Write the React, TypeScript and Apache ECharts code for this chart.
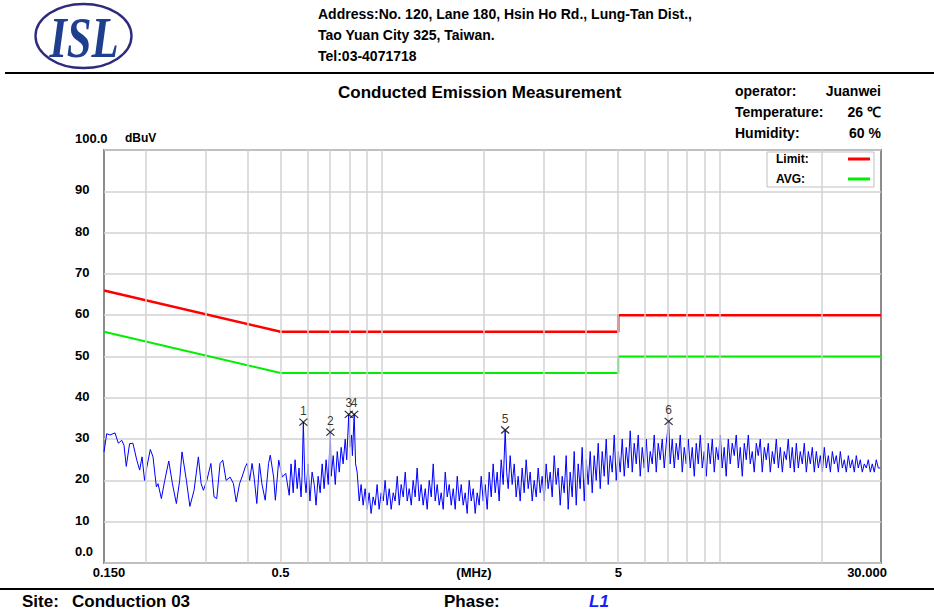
import React, { useEffect, useRef } from "react";
import * as echarts from "echarts";

const FONT = "'Liberation Sans', Arial, sans-serif";

// ---- data ----
const yTickValues = [0, 10, 20, 30, 40, 50, 60, 70, 80, 90, 100];
const xTickValues = [0.15, 0.5, 1.87, 5, 30];
const xTickLabels = ["0.150", "0.5", "(MHz)", "5", "30.000"];
const gridFreqs = [0.2, 0.3, 0.4, 0.5, 0.6, 0.7, 0.8, 0.9, 1, 2, 3, 4, 5, 6, 7, 8, 9, 10, 20];

const limitFreqs = [0.15, 0.5, 5, 5, 30];
const limitLevels = [66, 56, 56, 60, 60];
const avgLevels = [56, 46, 46, 50, 50];

const markerFreqs = [0.584, 0.702, 0.796, 0.826, 2.313, 7.05];
const markerLevels = [34.1, 31.7, 36.0, 36.0, 32.2, 34.3];
const markerNames = ["1", "2", "3", "4", "5", "6"];

// measured trace, [MHz, dBuV]
const traceReadings: [number, number][] = [
  [0.150, 26.9], [0.1528, 31.3], [0.1563, 31.0], [0.1617, 31.5], [0.1654, 29.0], [0.1693, 29.7],
  [0.1719, 28.5], [0.1746, 23.4], [0.1786, 28.9], [0.1827, 29.0], [0.1876, 24.9], [0.1913, 22.5],
  [0.1944, 25.7], [0.1978, 20.0], [0.201, 23.3], [0.2057, 27.5], [0.2095, 25.7], [0.2144, 18.4],
  [0.2168, 19.2], [0.2218, 15.6], [0.227, 20.0], [0.2333, 24.7], [0.2392, 19.2], [0.2457, 14.4],
  [0.2513, 20.0], [0.2553, 26.9], [0.2631, 20.0], [0.2694, 13.7], [0.2772, 17.6], [0.2855, 25.7],
  [0.2909, 19.2], [0.2955, 17.6], [0.3025, 20.0], [0.3109, 24.1], [0.3177, 16.0], [0.3236, 15.6],
  [0.331, 24.1], [0.3372, 24.9], [0.3449, 20.0], [0.3546, 20.8], [0.3627, 19.2], [0.3695, 14.8],
  [0.378, 19.2], [0.3843, 20.8], [0.3932, 23.3], [0.3978, 24.1], [0.405, 20.0], [0.4117, 24.1],
  [0.4174, 20.8], [0.4252, 14.4], [0.433, 24.1], [0.4402, 19.2], [0.4503, 15.2], [0.4607, 24.1],
  [0.4661, 26.1], [0.4769, 20.8], [0.4826, 15.2], [0.4938, 24.9], [0.506, 20.8], [0.518, 21.7],
  [0.5304, 16.4], [0.537, 24], [0.545, 17], [0.552, 25], [0.56, 18], [0.567, 23], [0.575, 16],
  [0.579, 21], [0.584, 34.1], [0.59, 20], [0.595, 17], [0.603, 24], [0.611, 15], [0.62, 22],
  [0.629, 19], [0.637, 14], [0.646, 21], [0.655, 17], [0.664, 24], [0.673, 18], [0.682, 25],
  [0.692, 19], [0.702, 31.7], [0.706, 21], [0.716, 26], [0.726, 19], [0.736, 27], [0.746, 22],
  [0.756, 28], [0.766, 24], [0.777, 30], [0.785, 25], [0.796, 36.0], [0.802, 28], [0.811, 31],
  [0.816, 26], [0.826, 36.0], [0.834, 24], [0.843, 22], [0.855, 15], [0.866, 19], [0.878, 14],
  [0.89, 18], [0.902, 13], [0.915, 17], [0.927, 12], [0.94, 16], [0.953, 14], [0.966, 19],
  [0.979, 13], [0.993, 17], [1.007, 15], [1.02, 20], [1.034, 14], [1.049, 18], [1.063, 13],
  [1.078, 17], [1.092, 15], [1.108, 21], [1.123, 14], [1.138, 19], [1.154, 16], [1.17, 22],
  [1.186, 15], [1.202, 18], [1.219, 14], [1.235, 20], [1.252, 16], [1.269, 23], [1.287, 15],
  [1.304, 19], [1.322, 14], [1.341, 18], [1.359, 13], [1.378, 20], [1.397, 16], [1.416, 24],
  [1.435, 15], [1.455, 19], [1.475, 14], [1.495, 17], [1.516, 13], [1.537, 22], [1.558, 16],
  [1.579, 19], [1.601, 14], [1.623, 18], [1.645, 13], [1.668, 21], [1.691, 15], [1.714, 19],
  [1.737, 14], [1.761, 17], [1.785, 12], [1.81, 20], [1.835, 15], [1.86, 18], [1.885, 12],
  [1.911, 17], [1.937, 14], [1.964, 21], [1.991, 15], [2.018, 19], [2.046, 13], [2.074, 22],
  [2.103, 16], [2.131, 24], [2.161, 17], [2.19, 22], [2.22, 15], [2.251, 25], [2.282, 19],
  [2.313, 32.2], [2.337, 22], [2.361, 18], [2.393, 26], [2.426, 19], [2.46, 24], [2.493, 16],
  [2.527, 21], [2.562, 15], [2.597, 23], [2.633, 17], [2.669, 25], [2.706, 18], [2.743, 22],
  [2.781, 15], [2.819, 20], [2.858, 16], [2.897, 23], [2.937, 17], [2.977, 21], [3.018, 15],
  [3.059, 24], [3.101, 18], [3.144, 22], [3.187, 16], [3.231, 26], [3.275, 19], [3.32, 23],
  [3.366, 14], [3.412, 21], [3.459, 17], [3.506, 26], [3.554, 13], [3.603, 22], [3.653, 16],
  [3.703, 27], [3.754, 14], [3.805, 24], [3.857, 18], [3.91, 28], [3.965, 15], [4.019, 25],
  [4.074, 19], [4.13, 27], [4.187, 17], [4.245, 26], [4.303, 20], [4.362, 29], [4.422, 18],
  [4.483, 27], [4.544, 21], [4.607, 30], [4.67, 19], [4.734, 26], [4.799, 22], [4.865, 31],
  [4.932, 20], [5.0, 27], [5.068, 22], [5.138, 30], [5.209, 21], [5.28, 28], [5.353, 23],
  [5.426, 32], [5.501, 22], [5.576, 29], [5.653, 24], [5.731, 31], [5.809, 21], [5.889, 28],
  [5.97, 23], [6.052, 30], [6.135, 22], [6.22, 27], [6.305, 24], [6.391, 31], [6.479, 22],
  [6.568, 29], [6.658, 25], [6.75, 30], [6.843, 23], [6.937, 29], [7.05, 34.3], [7.127, 24],
  [7.225, 30], [7.326, 23], [7.426, 29], [7.528, 25], [7.632, 31], [7.737, 22], [7.843, 28],
  [7.951, 24], [8.06, 30], [8.171, 23], [8.283, 28], [8.397, 21], [8.512, 29], [8.629, 24],
  [8.748, 31], [8.868, 23], [8.989, 27], [9.113, 21], [9.238, 29], [9.365, 24], [9.494, 30],
  [9.624, 22], [9.756, 28], [9.89, 25], [10.03, 31], [10.16, 23], [10.3, 28], [10.44, 21],
  [10.59, 30], [10.73, 24], [10.88, 29], [11.03, 26], [11.18, 31], [11.34, 23], [11.49, 28],
  [11.65, 21], [11.81, 29], [11.97, 25], [12.14, 31], [12.3, 24], [12.47, 27], [12.64, 22],
  [12.82, 29], [12.99, 26], [13.17, 30], [13.35, 22], [13.54, 28], [13.72, 25], [13.91, 29],
  [14.1, 22], [14.3, 27], [14.49, 24], [14.69, 30], [14.9, 23], [15.1, 28], [15.31, 22],
  [15.51, 27], [15.73, 25], [15.94, 30], [16.16, 23], [16.38, 28], [16.61, 22], [16.84, 29],
  [17.07, 23], [17.3, 27], [17.54, 24], [17.78, 29], [18.03, 22], [18.28, 27], [18.53, 24],
  [18.78, 28], [19.04, 22], [19.3, 27], [19.57, 23], [19.83, 26], [20.11, 22], [20.38, 28],
  [20.66, 23], [20.95, 26], [21.24, 22], [21.53, 27], [21.82, 24], [22.12, 26], [22.43, 22],
  [22.73, 27], [23.05, 23], [23.36, 25], [23.68, 22], [24.01, 26], [24.34, 23], [24.67, 25],
  [25.01, 22], [25.35, 26], [25.7, 23], [26.05, 25], [26.41, 22], [26.77, 24], [27.14, 23],
  [27.51, 25], [27.89, 22], [28.27, 24], [28.66, 22], [29.05, 25], [29.45, 23], [29.85, 23],
];

export default function App() {
  const ref = useRef<HTMLDivElement>(null);
  useEffect(() => {
    if (!ref.current) return;
    const chart = echarts.init(ref.current, null, { renderer: "svg" });
    const txt = (x: number, y: number, text: string, size: number, extra: any = {}) => ({
      type: "text",
      x,
      y,
      silent: true,
      style: {
        text,
        font: `${extra.style || ""} bold ${size}px ${extra.family || FONT}`,
        fill: extra.fill || "#000",
        textAlign: extra.align || "left",
        textVerticalAlign: "middle",
      },
    });
    chart.setOption({
      animation: false,
      backgroundColor: "#fff",
      grid: {
        left: 104,
        top: 150,
        width: 777,
        height: 413,
        show: true,
        borderColor: "#8c8c8c",
        borderWidth: 2,
        backgroundColor: "transparent",
      },
      legend: {
        data: ["Limit", "AVG"],
        orient: "vertical",
        left: 767,
        top: 152,
        align: "right",
        icon: "rect",
        itemWidth: 22,
        itemHeight: 3,
        itemGap: 8,
        padding: [1, 4, 2, 9],
        borderColor: "#c0c0c0",
        borderWidth: 1,
        backgroundColor: "#fff",
        selectedMode: false,
        formatter: (n: string) => `{a|${n}:}`,
        textStyle: {
          fontFamily: FONT,
          fontSize: 12,
          fontWeight: "bold",
          color: "#000",
          rich: {
            a: { width: 67, align: "left", fontFamily: FONT, fontSize: 12, fontWeight: "bold", color: "#000" },
          },
        },
      },
      xAxis: {
        type: "log",
        logBase: 10,
        min: 0.15,
        max: 30,
        axisLine: { show: false },
        axisTick: { show: false },
        splitLine: { show: false },
        axisLabel: {
          customValues: xTickValues,
          margin: 3,
          fontFamily: FONT,
          fontSize: 13,
          fontWeight: "bold",
          color: "#000",
          formatter: (v: number) => {
            let best = 0;
            xTickValues.forEach((t, i) => {
              if (Math.abs(Math.log(t / v)) < Math.abs(Math.log(xTickValues[best] / v))) best = i;
            });
            const s = xTickLabels[best];
            if (best === 0) return `{first|${s}}`;
            if (best === xTickLabels.length - 1) return `{last|${s}}`;
            return s;
          },
          rich: {
            first: { fontFamily: FONT, fontSize: 13, fontWeight: "bold", padding: [0, 0, 0, 10] },
            last: { fontFamily: FONT, fontSize: 13, fontWeight: "bold", padding: [0, 28, 0, 0] },
          },
        },
      },
      yAxis: {
        type: "value",
        min: 0,
        max: 100,
        interval: 10,
        axisLine: { show: false },
        axisTick: { show: false },
        splitLine: { show: true, lineStyle: { color: "#d2d2d2", width: 1.5 } },
        axisLabel: {
          customValues: yTickValues,
          align: "left",
          margin: 29,
          fontFamily: FONT,
          fontSize: 13,
          fontWeight: "bold",
          color: "#000",
          formatter: (v: number) =>
            v === 100 ? "{e|100.0}" : v === 0 ? "{e|0.0}" : `{n|${v}}`,
          rich: {
            e: { fontFamily: FONT, fontSize: 13, fontWeight: "bold", padding: [0, 0, 24, 0] },
            n: { fontFamily: FONT, fontSize: 13, fontWeight: "bold", padding: [0, 0, 3, 0] },
          },
        },
      },
      series: [
        {
          name: "grid",
          type: "line",
          data: [],
          silent: true,
          z: 1,
          markLine: {
            silent: true,
            symbol: ["none", "none"],
            label: { show: false },
            lineStyle: { color: "#d2d2d2", width: 1.5, type: "solid" },
            data: gridFreqs.map((f) => ({ xAxis: f })),
          },
        },
        {
          name: "trace",
          type: "line",
          data: traceReadings,
          showSymbol: false,
          z: 3,
          lineStyle: { color: "#0000ff", width: 1 },
          itemStyle: { color: "#0000ff" },
        },
        {
          name: "Limit",
          type: "line",
          data: limitFreqs.map((f, i) => [f, limitLevels[i]]),
          showSymbol: false,
          z: 4,
          lineStyle: { color: "#ff0000", width: 2.5 },
          itemStyle: { color: "#ff0000" },
        },
        {
          name: "AVG",
          type: "line",
          data: limitFreqs.map((f, i) => [f, avgLevels[i]]),
          showSymbol: false,
          z: 4,
          lineStyle: { color: "#00ee00", width: 2 },
          itemStyle: { color: "#00ee00" },
        },
        {
          name: "markers",
          type: "scatter",
          z: 5,
          data: markerFreqs.map((f, i) => [f, markerLevels[i]]),
          symbol: "path://M0 0L8 7M8 0L0 7",
          symbolSize: [8, 7],
          itemStyle: { color: "rgba(0,0,0,0)", borderColor: "#000", borderWidth: 1.2 },
          label: {
            show: true,
            position: "top",
            distance: 1,
            fontFamily: FONT,
            fontSize: 12,
            color: "#000",
            formatter: (p: any) => markerNames[p.dataIndex],
          },
        },
      ],
      graphic: {
        elements: [
          {
            type: "ellipse",
            silent: true,
            shape: { cx: 83.5, cy: 36, rx: 48, ry: 32 },
            style: { fill: "#fff", stroke: "#2e2b7c", lineWidth: 2.4 },
          },
          {
            type: "text",
            silent: true,
            x: 84,
            y: 37,
            scaleX: 0.78,
            style: {
              text: "ISL",
              font: "italic bold 57px 'Liberation Serif', 'Times New Roman', serif",
              fill: "#1f3e8e",
              textAlign: "center",
              textVerticalAlign: "middle",
            },
          },
          txt(318, 14, "Address:No. 120, Lane 180, Hsin Ho Rd., Lung-Tan Dist.,", 14),
          txt(318, 35, "Tao Yuan City 325, Taiwan.", 14),
          txt(318, 56, "Tel:03-4071718", 14),
          {
            type: "line",
            silent: true,
            shape: { x1: 5, y1: 73, x2: 934, y2: 73 },
            style: { stroke: "#000", lineWidth: 2 },
          },
          txt(338, 92, "Conducted Emission Measurement", 17),
          txt(735, 91, "operator:", 14),
          txt(881, 91, "Juanwei", 14, { align: "right" }),
          txt(735, 112, "Temperature:", 14),
          txt(881, 112, "26 \u2103", 14, { align: "right" }),
          txt(735, 133, "Humidity:", 14),
          txt(881, 133, "60 %", 14, { align: "right" }),
          txt(125, 138, "dBuV", 12),
          {
            type: "line",
            silent: true,
            shape: { x1: 0, y1: 589, x2: 934, y2: 589 },
            style: { stroke: "#000", lineWidth: 2 },
          },
          txt(22, 601, "Site:", 17),
          txt(72, 601, "Conduction 03", 17),
          txt(444, 601, "Phase:", 17),
          txt(589, 601, "L1", 17, { style: "italic", fill: "#1a1aff" }),
        ],
      },
    });
    return () => chart.dispose();
  }, []);
  return (
    <div
      ref={ref}
      style={{ position: "absolute", left: 0, top: 0, width: 934, height: 611, background: "#fff" }}
    />
  );
}
